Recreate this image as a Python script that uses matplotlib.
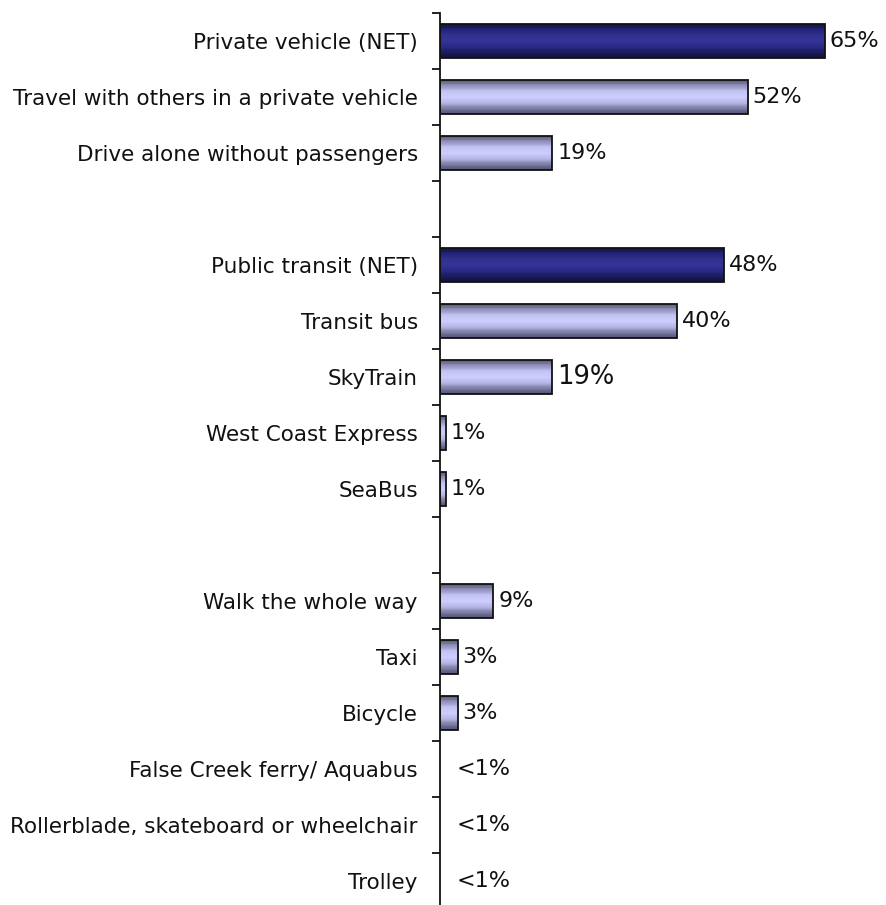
import numpy as np
import matplotlib
matplotlib.use("Agg")
import matplotlib.pyplot as plt
from matplotlib.colors import LinearSegmentedColormap

# Mode of travel (top to bottom); None marks a spacer row between groups
categories = [
    "Private vehicle (NET)",
    "Travel with others in a private vehicle",
    "Drive alone without passengers",
    None,
    "Public transit (NET)",
    "Transit bus",
    "SkyTrain",
    "West Coast Express",
    "SeaBus",
    None,
    "Walk the whole way",
    "Taxi",
    "Bicycle",
    "False Creek ferry/ Aquabus",
    "Rollerblade, skateboard or wheelchair",
    "Trolley",
]
values = [65, 52, 19, None, 48, 40, 19, 1, 1, None, 9, 3, 3, 0, 0, 0]
value_labels = ["65%", "52%", "19%", None, "48%", "40%", "19%", "1%", "1%", None,
                "9%", "3%", "3%", "<1%", "<1%", "<1%"]
is_net = [True, False, False, None, True, False, False, False, False, None,
          False, False, False, False, False, False]

plt.rcParams["font.family"] = ["DejaVu Sans"]

W, H = 886, 905
fig = plt.figure(figsize=(W / 100, H / 100), dpi=100)
ax_left = 440 / W
ax_w = 440 / W
ax_top = 1 - 13 / H
ax = fig.add_axes([ax_left, 0.0, ax_w, ax_top])

n = len(categories)
slot_px = 56.0
ax_h_px = ax_top * H
ylim_bottom = -0.5 + ax_h_px / slot_px

bar_h = 0.6

# Vertical shading profiles (top -> bottom) for the two bar styles
light_cmap = LinearSegmentedColormap.from_list(
    "light", ["#5e5e80", "#9595c0", "#c4c4f4", "#ccccff", "#b8b8e8", "#8080a8", "#55557a"])
dark_cmap = LinearSegmentedColormap.from_list(
    "dark", ["#14144a", "#24247a", "#31318f", "#333399", "#2a2a85", "#1c1c60", "#12123e"])
n_strips = 40
strip_h = bar_h / n_strips

for i, (v, net) in enumerate(zip(values, is_net)):
    if v is None or v <= 0:
        continue
    cmap = dark_cmap if net else light_cmap
    top = i - bar_h / 2
    for k in range(n_strips):
        yc = top + (k + 0.5) * strip_h
        ax.barh(yc, v, height=strip_h * 1.05, color=cmap(k / (n_strips - 1)),
                linewidth=0, zorder=2)
    ax.barh(i, v, height=bar_h, facecolor="none", edgecolor="#111111",
            linewidth=1.3, zorder=3)

for i, (v, lab) in enumerate(zip(values, value_labels)):
    if lab is None:
        continue
    size = 18.5 if categories[i] == "SkyTrain" else 16
    off = 12 if lab.startswith("<") else 3.5
    ax.annotate(lab, xy=(v, i), xytext=(off, 0), textcoords="offset points",
                ha="left", va="center", fontsize=size, color="#111111")

# Category labels on the left, ticks between rows
ax.set_yticks(range(n))
ax.set_yticklabels([c if c else "" for c in categories], fontsize=15.5, color="#111111")
ax.tick_params(axis="y", which="major", length=0, pad=16)
ax.set_yticks(np.arange(-0.5, n, 1.0), minor=True)
ax.tick_params(axis="y", which="minor", length=6, width=1.3, direction="out", color="#111111")

ax.set_ylim(ylim_bottom, -0.5)
ax.set_xlim(0, 440 / 5.92)

for s in ["top", "right", "bottom"]:
    ax.spines[s].set_visible(False)
ax.spines["left"].set_linewidth(1.3)
ax.spines["left"].set_color("#111111")
ax.xaxis.set_visible(False)

fig.savefig("out.png", dpi=100)
